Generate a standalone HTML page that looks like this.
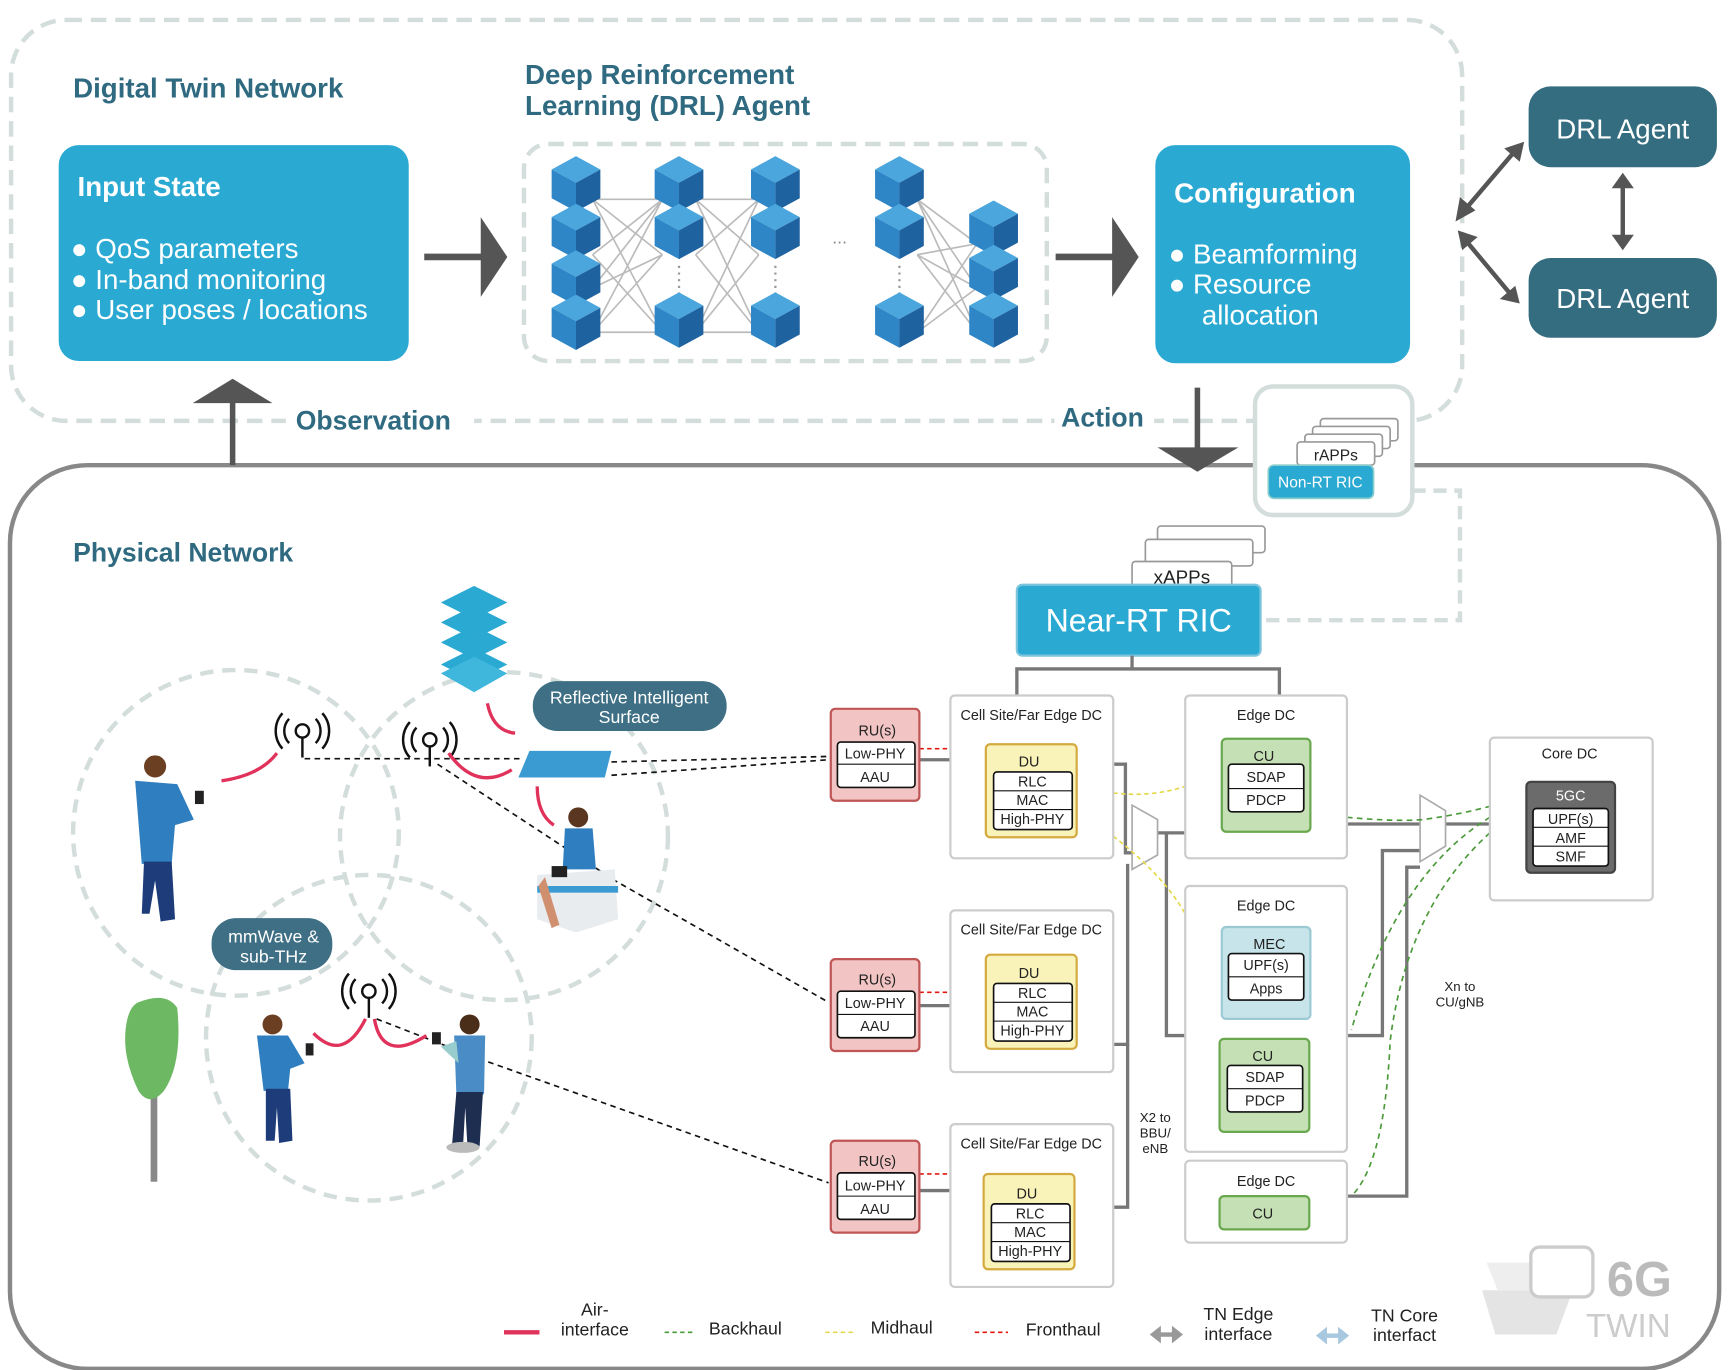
<!DOCTYPE html>
<html><head><meta charset="utf-8"><style>
html,body{margin:0;padding:0;background:#fff;}
svg{display:block;}
text{font-family:"Liberation Sans","DejaVu Sans",sans-serif;}
.t{fill:#2f6a80;font-weight:bold;}
.w{fill:#fff;}
.s{font-size:13px;fill:#222;}
</style></head><body>
<svg width="1728" height="1370" viewBox="0 0 1560 1237" preserveAspectRatio="none" xmlns="http://www.w3.org/2000/svg">
<defs>
<g id="cube">
<polygon points="0,-24 22,-12 0,0 -22,-12" fill="#4aa6dc"/>
<polygon points="-22,-12 0,0 0,26 -22,14" fill="#2e86c6"/>
<polygon points="22,-12 0,0 0,26 22,14" fill="#1f62a0"/>
</g>
<g id="ant" fill="none" stroke="#111" stroke-width="2.2">
<circle cx="0" cy="0" r="6"/><line x1="0" y1="6" x2="0" y2="24"/>
<path d="M-12,-11 A16,16 0 0 0 -12,11"/><path d="M12,-11 A16,16 0 0 1 12,11"/>
<path d="M-18,-16 A24,24 0 0 0 -18,16"/><path d="M18,-16 A24,24 0 0 1 18,16"/>
</g>
</defs>

<rect x="10" y="18" width="1310" height="362" rx="50" fill="none" stroke="#d3dddb" stroke-width="4" stroke-dasharray="14 8"/>
<text x="66" y="88" class="t" font-size="25">Digital Twin Network</text>
<text x="474" y="76" class="t" font-size="25">Deep Reinforcement</text>
<text x="474" y="104" class="t" font-size="25">Learning (DRL) Agent</text>

<rect x="53" y="131" width="316" height="195" rx="18" fill="#2aa9d3"/>
<text x="70" y="177" class="w" font-size="25" font-weight="bold">Input State</text>
<g class="w" font-size="25"><text x="64" y="233">● QoS parameters</text><text x="64" y="261">● In-band monitoring</text><text x="64" y="288">● User poses / locations</text></g>

<line x1="383" y1="232" x2="438" y2="232" stroke="#555" stroke-width="6"/>
<polygon points="434,196 458,232 434,268" fill="#555"/>

<rect x="473" y="130" width="472" height="196" rx="22" fill="none" stroke="#d3dddb" stroke-width="4" stroke-dasharray="14 8"/>
<g stroke="#bbb" stroke-width="1.5">
<path d="M535,180 L598,230 M535,230 L598,180 M535,180 L598,300 M535,300 L598,180 M535,230 L598,300 M535,260 L598,230 M535,300 L598,230 M535,260 L598,180 M535,180 L598,180 M535,300 L598,300"/>
<path d="M628,180 L685,230 M628,230 L685,180 M628,180 L685,300 M628,300 L685,180 M628,230 L685,300 M628,300 L685,230 M628,180 L685,180 M628,300 L685,300"/>
<path d="M828,180 L882,220 M828,180 L882,300 M828,230 L882,260 M828,300 L882,220 M828,230 L882,300 M828,300 L882,260 M828,180 L882,260 M828,230 L882,220"/>
</g>
<g stroke="#999" stroke-width="2" stroke-dasharray="2 4"><line x1="613" y1="240" x2="613" y2="280"/><line x1="700" y1="240" x2="700" y2="280"/><line x1="812" y1="240" x2="812" y2="280"/></g>
<use href="#cube" x="520" y="165"/><use href="#cube" x="520" y="208"/><use href="#cube" x="520" y="250"/><use href="#cube" x="520" y="290"/>
<use href="#cube" x="613" y="165"/><use href="#cube" x="613" y="208"/><use href="#cube" x="613" y="288"/>
<use href="#cube" x="700" y="165"/><use href="#cube" x="700" y="208"/><use href="#cube" x="700" y="288"/>
<use href="#cube" x="812" y="165"/><use href="#cube" x="812" y="208"/><use href="#cube" x="812" y="288"/>
<use href="#cube" x="897" y="205"/><use href="#cube" x="897" y="245"/><use href="#cube" x="897" y="288"/>
<text x="758" y="220" font-size="16" fill="#888" text-anchor="middle">...</text>

<line x1="953" y1="232" x2="1008" y2="232" stroke="#555" stroke-width="6"/>
<polygon points="1004,196 1028,232 1004,268" fill="#555"/>

<rect x="1043" y="131" width="230" height="197" rx="18" fill="#2aa9d3"/>
<text x="1060" y="183" class="w" font-size="25" font-weight="bold">Configuration</text>
<g class="w" font-size="25"><text x="1055" y="238">● Beamforming</text><text x="1055" y="265">● Resource</text><text x="1085" y="293">allocation</text></g>

<rect x="1380" y="78" width="170" height="73" rx="20" fill="#346c80"/>
<text x="1465" y="125" class="w" font-size="25" text-anchor="middle">DRL Agent</text>
<rect x="1380" y="233" width="170" height="72" rx="20" fill="#346c80"/>
<text x="1465" y="278" class="w" font-size="25" text-anchor="middle">DRL Agent</text>
<g stroke="#555" stroke-width="4" fill="#555">
<line x1="1322" y1="190" x2="1368" y2="136"/>
<line x1="1324" y1="218" x2="1364" y2="266"/>
<line x1="1465" y1="166" x2="1465" y2="217"/>
</g>
<g fill="#555">
<polygon points="1314,200 1318,178 1332,190"/><polygon points="1376,128 1358,134 1372,146"/>
<polygon points="1316,208 1334,214 1320,226"/><polygon points="1372,274 1354,270 1368,258"/>
<polygon points="1465,156 1455,170 1475,170"/><polygon points="1465,226 1455,212 1475,212"/>
</g>

<rect x="9" y="420" width="1543" height="816" rx="70" fill="none" stroke="#888" stroke-width="4"/>
<rect x="258" y="370" width="170" height="24" fill="#fff"/>
<line x1="210" y1="420" x2="210" y2="360" stroke="#555" stroke-width="5"/>
<polygon points="174,364 210,342 246,364" fill="#555"/>
<text x="267" y="388" class="t" font-size="24">Observation</text>
<rect x="952" y="365" width="90" height="26" fill="#fff"/>
<text x="958" y="385" class="t" font-size="24">Action</text>
<line x1="1081" y1="350" x2="1081" y2="408" stroke="#555" stroke-width="5"/>
<polygon points="1045,404 1118,404 1081,426" fill="#555"/>

<polyline points="1275,443 1318,443 1318,560 1140,560" fill="none" stroke="#d3dddb" stroke-width="4" stroke-dasharray="12 7"/>
<rect x="1133" y="349" width="142" height="116" rx="16" fill="#fff" stroke="#d3dddb" stroke-width="4"/>
<g fill="#fff" stroke="#999" stroke-width="1.5">
<rect x="1192" y="378" width="70" height="20" rx="3"/><rect x="1185" y="385" width="70" height="20" rx="3"/><rect x="1178" y="392" width="70" height="20" rx="3"/><rect x="1171" y="399" width="70" height="21" rx="3"/></g>
<text x="1206" y="416" font-size="14" text-anchor="middle" fill="#222">rAPPs</text>
<rect x="1145" y="420" width="95" height="30" rx="5" fill="#2aa9d3" stroke="#8cc" stroke-width="1.5"/>
<text x="1192" y="440" font-size="14" class="w" text-anchor="middle">Non-RT RIC</text>

<text x="66" y="507" class="t" font-size="24">Physical Network</text>

<g fill="#fff" stroke="#999" stroke-width="1.5">
<rect x="1045" y="475" width="97" height="24" rx="3"/><rect x="1034" y="487" width="97" height="24" rx="3"/><rect x="1022" y="507" width="90" height="25" rx="3"/></g>
<text x="1067" y="527" font-size="17" text-anchor="middle" fill="#222">xAPPs</text>
<rect x="918" y="528" width="220" height="64" rx="5" fill="#2aa9d3" stroke="#7cc4dc" stroke-width="2"/>
<text x="1028" y="570" class="w" font-size="29" text-anchor="middle">Near-RT RIC</text>
<polyline points="918,628 918,604 1155,604 1155,628" fill="none" stroke="#777" stroke-width="3"/>
<line x1="1022" y1="592" x2="1022" y2="604" stroke="#777" stroke-width="3"/>

<g fill="none" stroke="#777" stroke-width="3">
<polyline points="1005,690 1016,690 1016,770 1024,770"/>
<polyline points="1005,943 1018,943 1018,780"/>
<polyline points="1005,1090 1018,1090 1018,943"/>
<line x1="1045" y1="752" x2="1070" y2="752"/>
<polyline points="1053,752 1053,935 1070,935"/>
<polyline points="1216,744 1345,744"/>
<polyline points="1216,935 1248,935 1248,768 1282,768"/>
<polyline points="1216,1080 1270,1080 1270,783 1282,783"/>
<line x1="830" y1="686" x2="858" y2="686"/><line x1="830" y1="908" x2="858" y2="908"/><line x1="830" y1="1075" x2="858" y2="1075"/>
</g>
<polygon points="1022,727 1045,740 1045,772 1022,785" fill="#fff" stroke="#aaa" stroke-width="1.5"/>
<polygon points="1282,718 1305,732 1305,764 1282,778" fill="#fff" stroke="#aaa" stroke-width="1.5"/>
<g fill="none" stroke="#e0160f" stroke-width="1.5" stroke-dasharray="4 3">
<line x1="830" y1="676" x2="858" y2="676"/><line x1="830" y1="896" x2="858" y2="896"/><line x1="830" y1="1060" x2="858" y2="1060"/></g>
<g fill="none" stroke="#e5d84a" stroke-width="1.5" stroke-dasharray="4 3">
<path d="M1005,716 Q1040,720 1070,710"/><path d="M1005,755 Q1050,790 1070,825"/></g>
<g fill="none" stroke="#4a9a3a" stroke-width="1.5" stroke-dasharray="5 4">
<path d="M1216,738 Q1260,742 1285,740 Q1320,735 1345,728"/>
<path d="M1345,738 Q1260,790 1220,930"/>
<path d="M1345,752 Q1270,820 1255,940 Q1250,1050 1220,1080"/>
</g>

<g fill="#fff" stroke="#ccc" stroke-width="2">
<rect x="858" y="628" width="147" height="147" rx="4"/><rect x="858" y="822" width="147" height="146" rx="4"/><rect x="858" y="1015" width="147" height="147" rx="4"/>
<rect x="1070" y="628" width="146" height="147" rx="4"/><rect x="1070" y="800" width="146" height="240" rx="4"/><rect x="1070" y="1048" width="146" height="74" rx="4"/>
<rect x="1345" y="666" width="147" height="147" rx="4"/>
</g>
<g class="s" text-anchor="middle">
<text x="931" y="650">Cell Site/Far Edge DC</text><text x="931" y="844">Cell Site/Far Edge DC</text><text x="931" y="1037">Cell Site/Far Edge DC</text>
<text x="1143" y="650">Edge DC</text><text x="1143" y="822">Edge DC</text><text x="1143" y="1071">Edge DC</text>
<text x="1417" y="685">Core DC</text>
</g>

<g font-size="13" text-anchor="middle" fill="#222">
<g>
<rect x="890" y="672" width="82" height="84" rx="4" fill="#f9f3b9" stroke="#d4aa40" stroke-width="2"/><text x="929" y="692">DU</text>
<rect x="897" y="697" width="71" height="52" rx="3" fill="#fff" stroke="#111" stroke-width="1.5"/>
<line x1="897" y1="714" x2="968" y2="714" stroke="#111"/><line x1="897" y1="731" x2="968" y2="731" stroke="#111"/>
<text x="932" y="710">RLC</text><text x="932" y="727">MAC</text><text x="932" y="744">High-PHY</text>
</g>
<g>
<rect x="890" y="862" width="82" height="85" rx="4" fill="#f9f3b9" stroke="#d4aa40" stroke-width="2"/><text x="929" y="883">DU</text>
<rect x="897" y="888" width="71" height="52" rx="3" fill="#fff" stroke="#111" stroke-width="1.5"/>
<line x1="897" y1="905" x2="968" y2="905" stroke="#111"/><line x1="897" y1="922" x2="968" y2="922" stroke="#111"/>
<text x="932" y="901">RLC</text><text x="932" y="918">MAC</text><text x="932" y="935">High-PHY</text>
</g>
<g>
<rect x="888" y="1060" width="82" height="86" rx="4" fill="#f9f3b9" stroke="#d4aa40" stroke-width="2"/><text x="927" y="1082">DU</text>
<rect x="895" y="1087" width="71" height="52" rx="3" fill="#fff" stroke="#111" stroke-width="1.5"/>
<line x1="895" y1="1104" x2="966" y2="1104" stroke="#111"/><line x1="895" y1="1121" x2="966" y2="1121" stroke="#111"/>
<text x="930" y="1100">RLC</text><text x="930" y="1117">MAC</text><text x="930" y="1134">High-PHY</text>
</g>
<g>
<rect x="750" y="640" width="80" height="83" rx="4" fill="#f2c5c4" stroke="#c05555" stroke-width="2"/><text x="792" y="664">RU(s)</text>
<rect x="756" y="670" width="70" height="41" rx="3" fill="#fff" stroke="#111" stroke-width="1.5"/><line x1="756" y1="690" x2="826" y2="690" stroke="#111"/>
<text x="790" y="685">Low-PHY</text><text x="790" y="706">AAU</text>
</g>
<g>
<rect x="750" y="866" width="80" height="83" rx="4" fill="#f2c5c4" stroke="#c05555" stroke-width="2"/><text x="792" y="889">RU(s)</text>
<rect x="756" y="895" width="70" height="42" rx="3" fill="#fff" stroke="#111" stroke-width="1.5"/><line x1="756" y1="916" x2="826" y2="916" stroke="#111"/>
<text x="790" y="910">Low-PHY</text><text x="790" y="931">AAU</text>
</g>
<g>
<rect x="750" y="1030" width="80" height="83" rx="4" fill="#f2c5c4" stroke="#c05555" stroke-width="2"/><text x="792" y="1053">RU(s)</text>
<rect x="756" y="1059" width="70" height="42" rx="3" fill="#fff" stroke="#111" stroke-width="1.5"/><line x1="756" y1="1080" x2="826" y2="1080" stroke="#111"/>
<text x="790" y="1075">Low-PHY</text><text x="790" y="1096">AAU</text>
</g>
<g>
<rect x="1103" y="667" width="80" height="84" rx="4" fill="#c5e0b5" stroke="#6aa84f" stroke-width="2"/><text x="1141" y="687">CU</text>
<rect x="1109" y="690" width="68" height="43" rx="3" fill="#fff" stroke="#111" stroke-width="1.5"/><line x1="1109" y1="712" x2="1177" y2="712" stroke="#111"/>
<text x="1143" y="706">SDAP</text><text x="1143" y="727">PDCP</text>
</g>
<g>
<rect x="1103" y="837" width="80" height="83" rx="4" fill="#c6e4ea" stroke="#9ccad4" stroke-width="2"/><text x="1146" y="857">MEC</text>
<rect x="1109" y="861" width="68" height="42" rx="3" fill="#fff" stroke="#111" stroke-width="1.5"/><line x1="1109" y1="882" x2="1177" y2="882" stroke="#111"/>
<text x="1143" y="876">UPF(s)</text><text x="1143" y="897">Apps</text>
</g>
<g>
<rect x="1101" y="938" width="81" height="84" rx="4" fill="#c5e0b5" stroke="#6aa84f" stroke-width="2"/><text x="1140" y="958">CU</text>
<rect x="1108" y="962" width="68" height="42" rx="3" fill="#fff" stroke="#111" stroke-width="1.5"/><line x1="1108" y1="983" x2="1176" y2="983" stroke="#111"/>
<text x="1142" y="977">SDAP</text><text x="1142" y="998">PDCP</text>
</g>
<rect x="1101" y="1080" width="81" height="30" rx="4" fill="#c5e0b5" stroke="#6aa84f" stroke-width="2"/><text x="1140" y="1100">CU</text>
<g>
<rect x="1378" y="706" width="80" height="82" rx="4" fill="#6b6b6b" stroke="#444" stroke-width="2"/><text x="1418" y="723" fill="#fff">5GC</text>
<rect x="1384" y="730" width="68" height="52" rx="3" fill="#fff" stroke="#111" stroke-width="1.5"/>
<line x1="1384" y1="747" x2="1452" y2="747" stroke="#111"/><line x1="1384" y1="764" x2="1452" y2="764" stroke="#111"/>
<text x="1418" y="744">UPF(s)</text><text x="1418" y="761">AMF</text><text x="1418" y="778">SMF</text>
</g>
<g font-size="12"><text x="1043" y="1013">X2 to</text><text x="1043" y="1027">BBU/</text><text x="1043" y="1041">eNB</text>
<text x="1318" y="895">Xn to</text><text x="1318" y="909">CU/gNB</text></g>
</g>

<g fill="none" stroke="#d3dddb" stroke-width="4" stroke-dasharray="12 8">
<circle cx="213" cy="752" r="147"/><circle cx="455" cy="755" r="148"/><circle cx="333" cy="937" r="147"/>
</g>
<g fill="none" stroke="#111" stroke-width="1.5" stroke-dasharray="5 4">
<line x1="275" y1="685" x2="470" y2="685"/>
<path d="M552,688 L748,683"/><path d="M552,700 L748,686"/>
<path d="M395,690 L555,795 L748,905"/>
<path d="M340,920 L430,955 L748,1068"/>
</g>
<use href="#ant" x="273" y="660"/><use href="#ant" x="388" y="668"/><use href="#ant" x="333" y="895"/>
<g fill="none" stroke="#e0325a" stroke-width="3">
<path d="M200,705 Q235,700 250,680"/><path d="M405,680 Q430,715 462,695"/><path d="M440,635 Q445,660 465,662"/>
<path d="M485,710 Q485,735 500,745"/><path d="M283,933 Q310,960 330,920"/><path d="M338,920 Q345,960 385,935"/>
</g>
<g>
<polygon points="398,600 428,585 458,600 428,615" fill="#2aa9d3"/><polygon points="398,580 428,565 458,580 428,595" fill="#2aa9d3"/>
<polygon points="398,562 428,547 458,562 428,577" fill="#2aa9d3"/><polygon points="398,544 428,529 458,544 428,559" fill="#2aa9d3"/>
<polygon points="398,608 428,593 458,608 428,625" fill="#3fb6dc"/>
</g>
<polygon points="478,678 552,678 546,702 468,702" fill="#3a9bd3"/>
<rect x="481" y="615" width="175" height="45" rx="22" fill="#3e6f84"/>
<text x="568" y="635" class="w" font-size="16" text-anchor="middle">Reflective Intelligent</text>
<text x="568" y="653" class="w" font-size="16" text-anchor="middle">Surface</text>
<rect x="191" y="829" width="109" height="47" rx="22" fill="#3e6f84"/>
<text x="247" y="851" class="w" font-size="16" text-anchor="middle">mmWave &amp;</text>
<text x="247" y="869" class="w" font-size="16" text-anchor="middle">sub-THz</text>
<g>
<circle cx="140" cy="692" r="10" fill="#6a3f22"/><path d="M122,705 L160,708 L175,740 L158,745 L155,780 L128,780 Z" fill="#2f7fc0"/>
<path d="M130,778 L155,778 L158,830 L145,832 L140,795 L135,825 L128,825 Z" fill="#1e3b7a"/><rect x="176" y="714" width="8" height="12" fill="#222"/>
</g>
<g>
<circle cx="522" cy="738" r="9" fill="#5a3520"/><path d="M510,748 L535,748 L538,785 L508,785 Z" fill="#2f7fc0"/>
<path d="M485,790 L555,785 L558,830 L520,842 L485,830 Z" fill="#e8ecef"/><rect x="485" y="800" width="73" height="6" fill="#3a9bd3"/>
<path d="M492,792 L505,835 L498,838 L486,800 Z" fill="#d09070"/><rect x="498" y="782" width="14" height="10" fill="#222"/>
</g>
<g>
<circle cx="246" cy="925" r="9" fill="#6a3f22"/><path d="M232,935 L260,935 L275,960 L262,965 L260,985 L238,985 Z" fill="#2f7fc0"/>
<path d="M240,983 L262,983 L264,1030 L252,1032 L250,1000 L248,1030 L240,1030 Z" fill="#1e3b7a"/><rect x="276" y="942" width="7" height="11" fill="#222"/>
</g>
<g>
<circle cx="424" cy="925" r="9" fill="#4a2e1a"/><path d="M410,935 L438,935 L437,988 L412,988 Z" fill="#4a8cc6"/><path d="M398,945 L412,940 L414,960 Z" fill="#9cc"/>
<path d="M412,986 L436,986 L433,1035 L422,1035 L420,1000 L418,1035 L408,1035 Z" fill="#1e2e50"/><ellipse cx="418" cy="1036" rx="15" ry="5" fill="#bbb"/><rect x="390" y="932" width="8" height="11" fill="#222"/>
</g>
<rect x="136" y="985" width="6" height="82" fill="#888"/>
<path d="M125,905 Q150,895 160,910 Q165,960 148,985 Q135,1000 125,985 Q108,950 115,920 Q118,908 125,905 Z" fill="#6db862"/>

<g font-size="16" fill="#222">
<text x="537" y="1188" text-anchor="middle">Air-</text><text x="537" y="1206" text-anchor="middle">interface</text>
<line x1="455" y1="1203" x2="487" y2="1203" stroke="#e0325a" stroke-width="4"/>
<line x1="600" y1="1203" x2="628" y2="1203" stroke="#4a9a3a" stroke-width="1.5" stroke-dasharray="4 3"/><text x="640" y="1205">Backhaul</text>
<line x1="745" y1="1203" x2="772" y2="1203" stroke="#e5d84a" stroke-width="1.5" stroke-dasharray="4 3"/><text x="786" y="1204">Midhaul</text>
<line x1="880" y1="1203" x2="910" y2="1203" stroke="#e0160f" stroke-width="1.5" stroke-dasharray="4 3"/><text x="926" y="1206">Fronthaul</text>
<text x="1118" y="1192" text-anchor="middle">TN Edge</text><text x="1118" y="1210" text-anchor="middle">interface</text>
<text x="1268" y="1193" text-anchor="middle">TN Core</text><text x="1268" y="1211" text-anchor="middle">interfact</text>
</g>
<g stroke="#999" stroke-width="4"><line x1="1046" y1="1205" x2="1060" y2="1205"/></g>
<polygon points="1038,1205 1048,1197 1048,1213" fill="#999"/><polygon points="1068,1205 1058,1197 1058,1213" fill="#999"/>
<g stroke="#a8c8e0" stroke-width="4"><line x1="1196" y1="1206" x2="1210" y2="1206"/></g>
<polygon points="1188,1206 1198,1198 1198,1214" fill="#a8c8e0"/><polygon points="1218,1206 1208,1198 1208,1214" fill="#a8c8e0"/>
<polygon points="1338,1165 1420,1165 1405,1205 1350,1205" fill="#e4e4e4"/>
<polygon points="1342,1140 1400,1140 1390,1165 1352,1165" fill="#eee"/>
<rect x="1382" y="1126" width="56" height="45" rx="8" fill="#fff" stroke="#ccc" stroke-width="3"/>
<text x="1480" y="1170" font-size="44" font-weight="bold" fill="#bbb" text-anchor="middle">6G</text>
<text x="1470" y="1207" font-size="30" fill="#ccc" text-anchor="middle">TWIN</text>
</svg>
</body></html>
